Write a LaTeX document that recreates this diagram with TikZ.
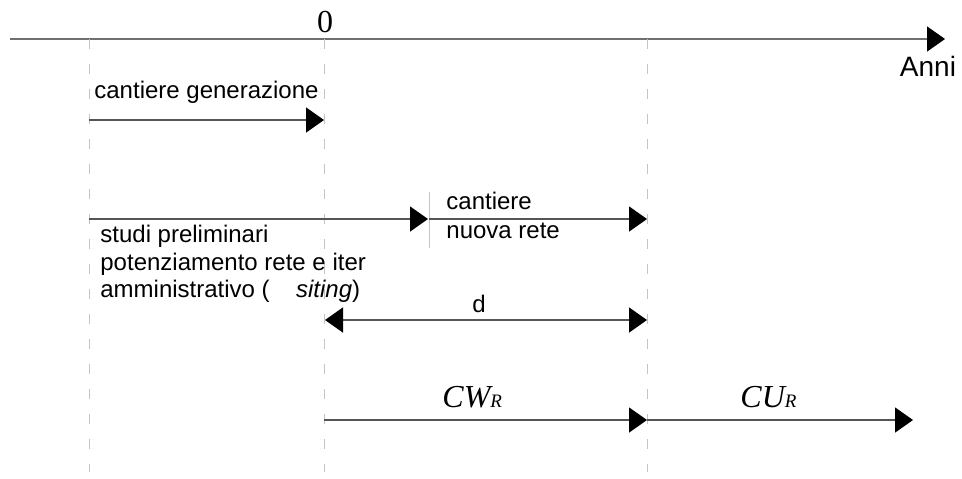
\documentclass[tikz,border=0pt]{standalone}
\usepackage{fontspec}
\setmainfont{Liberation Sans}
\newfontfamily\tnr{Liberation Serif}
\usetikzlibrary{arrows.meta}

\definecolor{axisgrey}{HTML}{707070}
\definecolor{linegrey}{HTML}{555555}
\definecolor{guidegrey}{HTML}{C4C4C4}

\tikzset{
  tip/.tip={Triangle[length=9pt,width=12.5pt,color=black]},
  axisline/.style={draw=axisgrey, line width=0.75pt, -tip},
  span/.style={draw=linegrey, line width=0.75pt, -tip},
  twospan/.style={draw=linegrey, line width=0.75pt, tip-tip},
  guide/.style={draw=guidegrey, line width=0.5pt, dash pattern=on 5pt off 7.5pt},
  tickline/.style={draw=guidegrey, line width=0.5pt},
  lbl/.style={inner sep=0pt, font=\fontsize{12}{14}\selectfont},
  serif/.style={inner sep=0pt, font=\tnr\fontsize{16}{18}\selectfont},
}

\begin{document}
\begin{tikzpicture}[x=0.5pt, y=-0.5pt]
\useasboundingbox (0,0) rectangle (962,478);

% time axis
\coordinate (axL) at (10,39);
\coordinate (axR) at (945,39);
\draw[axisline] (axL) -- (axR);
\node[serif, anchor=base] (zero) at (325,32) {0};
\node[inner sep=0pt, font=\fontsize{14}{16}\selectfont, anchor=base] (anni) at (928,76) {Anni};

% vertical guides
\coordinate (gA1) at (89,39);  \coordinate (gA2) at (89,472);
\coordinate (gB1) at (324,39); \coordinate (gB2) at (324,472);
\coordinate (gC1) at (647,39); \coordinate (gC2) at (647,472);
\draw[guide] (gA1) -- (gA2);
\draw[guide] (gB1) -- (gB2);
\draw[guide] (gC1) -- (gC2);

% generation works
\coordinate (genS) at (89,120);
\coordinate (genE) at (324,120);
\draw[span] (genS) -- (genE);
\node[lbl, anchor=base west] (genT) at (94,98) {cantiere generazione};

% preliminary studies and permitting
\coordinate (stuS) at (89,219);
\coordinate (stuE) at (428,219);
\draw[span] (stuS) -- (stuE);
\node[lbl, anchor=base west] (stu1) at (100,242) {studi preliminari};
\node[lbl, anchor=base west] (stu2) at (100,270) {potenziamento rete e iter};
\node[lbl, anchor=base west] (stu3) at (100,297) {amministrativo (\hspace{1.1em}\textit{siting})};

% new grid works
\coordinate (tkT) at (429,192);
\coordinate (tkB) at (429,248);
\draw[tickline] (tkT) -- (tkB);
\coordinate (netS) at (429,219);
\coordinate (netE) at (647,219);
\draw[span] (netS) -- (netE);
\node[lbl, anchor=base west] (net1) at (446,209) {cantiere};
\node[lbl, anchor=base west] (net2) at (446,238) {nuova rete};

% delay d
\coordinate (dS) at (325,320);
\coordinate (dE) at (647,320);
\draw[twospan] (dS) -- (dE);
\node[lbl, anchor=base] (dT) at (479,312) {d};

% cost intervals
\coordinate (cwS) at (324,420);
\coordinate (cwE) at (647,420);
\coordinate (cuE) at (913,420);
\draw[span] (cwS) -- (cwE);
\draw[span] (cwE) -- (cuE);
\node[serif, anchor=base west] (cwT) at (442,407) {\textit{CW{\fontsize{9.5}{10}\selectfont R}}};
\node[serif, anchor=base west] (cuT) at (740,407) {\textit{CU{\fontsize{9.5}{10}\selectfont R}}};
\end{tikzpicture}
\end{document}
